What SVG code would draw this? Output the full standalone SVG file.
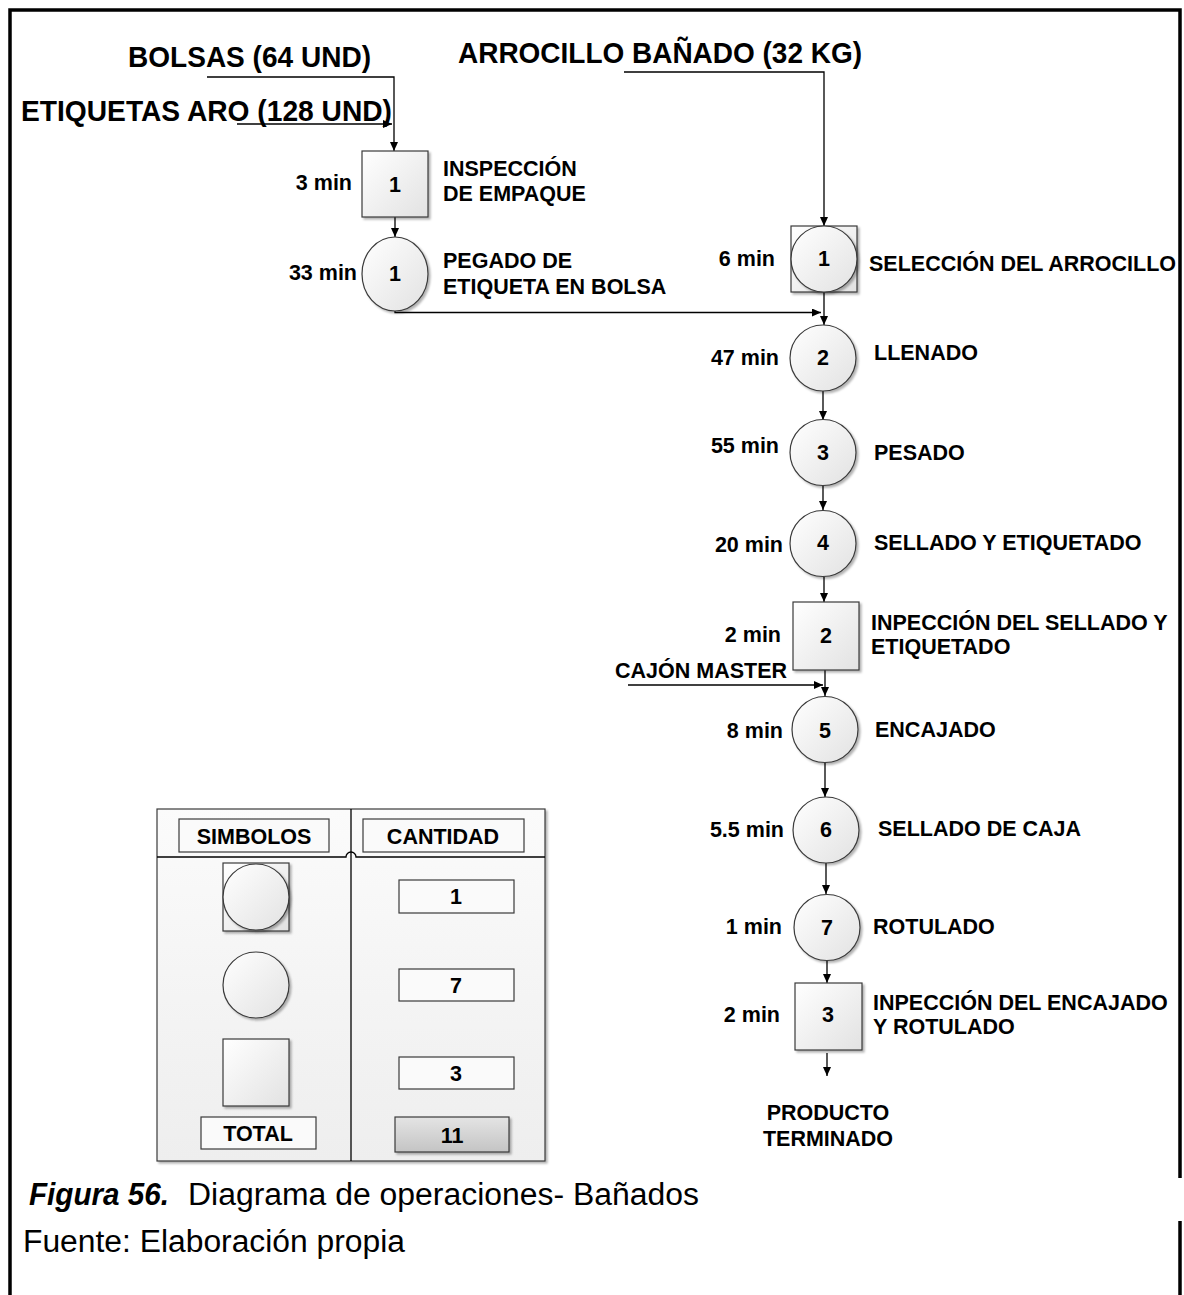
<svg xmlns="http://www.w3.org/2000/svg" width="1184" height="1295" viewBox="0 0 1184 1295">
  <defs>
    <linearGradient id="shade" x1="0" y1="0" x2="1" y2="1">
      <stop offset="0" stop-color="#ffffff"/>
      <stop offset="1" stop-color="#e2e2e2"/>
    </linearGradient>
    <linearGradient id="panel" x1="0" y1="0" x2="0" y2="1">
      <stop offset="0" stop-color="#fbfbfb"/>
      <stop offset="1" stop-color="#eeeeee"/>
    </linearGradient>
    <linearGradient id="grey" x1="0" y1="0" x2="0" y2="1">
      <stop offset="0" stop-color="#e4e4e4"/>
      <stop offset="1" stop-color="#c4c4c4"/>
    </linearGradient>
    <filter id="sh" x="-10%" y="-10%" width="130%" height="130%">
      <feDropShadow dx="2" dy="2" stdDeviation="1" flood-color="#000" flood-opacity="0.3"/>
    </filter>
    <marker id="arr" markerWidth="10" markerHeight="8" refX="9" refY="4" orient="auto" markerUnits="userSpaceOnUse">
      <path d="M0,0 L9,4 L0,8 Z" fill="#000"/>
    </marker>
  </defs>
  <style>
    text { font-family: "Liberation Sans", Arial, sans-serif; fill: #000; }
    .t { font-size: 21.5px; font-weight: bold; }
    .big { font-size: 30px; font-weight: bold; }
    .c { text-anchor: middle; }
    .r { text-anchor: end; }
    .cap { font-size: 31px; }
    .node { fill: url(#shade); stroke: #3a3a3a; stroke-width: 1.2; filter: url(#sh); }
    .box { fill: #fafafa; stroke: #3a3a3a; stroke-width: 1.2; }
    .link { fill: none; stroke: #000; stroke-width: 1.3; }
    .frame { fill: none; stroke: #000; stroke-width: 3.5; }
  </style>

  <rect width="1184" height="1295" fill="#fff"/>

  <!-- page frame -->
  <path class="frame" d="M10,1295 V10 H1180 V1178"/>
  <path class="frame" d="M1180,1221 V1295"/>

  <!-- input labels -->
  <text class="big" x="128" y="67" textLength="243" lengthAdjust="spacingAndGlyphs">BOLSAS (64 UND)</text>
  <text class="big" x="21" y="121" textLength="371" lengthAdjust="spacingAndGlyphs">ETIQUETAS ARO (128 UND)</text>
  <text class="big" x="458" y="63" textLength="404" lengthAdjust="spacingAndGlyphs">ARROCILLO BAÑADO (32 KG)</text>
  <text class="t" x="615" y="678">CAJÓN MASTER</text>

  <!-- connectors -->
  <g id="connectors">
    <path class="link" d="M207,77 H394 V151" marker-end="url(#arr)"/>
    <path class="link" d="M237,124 H392" marker-end="url(#arr)"/>
    <path class="link" d="M395,217 V237" marker-end="url(#arr)"/>
    <path class="link" d="M395,310 V312.5 H821" marker-end="url(#arr)"/>
    <path class="link" d="M624,72 H824 V226" marker-end="url(#arr)"/>
    <path class="link" d="M824,292 V325" marker-end="url(#arr)"/>
    <path class="link" d="M823,391 V420" marker-end="url(#arr)"/>
    <path class="link" d="M823,485 V510" marker-end="url(#arr)"/>
    <path class="link" d="M824,577 V602" marker-end="url(#arr)"/>
    <path class="link" d="M825,670 V696" marker-end="url(#arr)"/>
    <path class="link" d="M628,685 H823" marker-end="url(#arr)"/>
    <path class="link" d="M825,763 V797" marker-end="url(#arr)"/>
    <path class="link" d="M826,863 V894" marker-end="url(#arr)"/>
    <path class="link" d="M827,961 V983" marker-end="url(#arr)"/>
    <path class="link" d="M827,1053 V1076" marker-end="url(#arr)"/>
  </g>

  <!-- left branch -->
  <g id="insp-1">
    <rect class="node" x="362" y="151" width="66" height="66"/>
    <text class="t c" x="395" y="192">1</text>
    <text class="t r" x="352" y="190">3 min</text>
    <text class="t" x="443" y="176">INSPECCIÓN</text>
    <text class="t" x="443" y="201">DE EMPAQUE</text>
  </g>
  <g id="op-1">
    <ellipse class="node" cx="395" cy="274" rx="33" ry="37"/>
    <text class="t c" x="395" y="281">1</text>
    <text class="t r" x="357" y="280">33 min</text>
    <text class="t" x="443" y="268">PEGADO DE</text>
    <text class="t" x="443" y="294">ETIQUETA EN BOLSA</text>
  </g>

  <!-- main branch -->
  <g id="comb-1">
    <rect class="node" x="791" y="226" width="66" height="66"/>
    <circle class="node" cx="824" cy="259" r="33"/>
    <text class="t c" x="824" y="266">1</text>
    <text class="t r" x="775" y="266">6 min</text>
    <text class="t" x="869" y="271">SELECCIÓN DEL ARROCILLO</text>
  </g>
  <g id="op-2">
    <circle class="node" cx="823" cy="358" r="33"/>
    <text class="t c" x="823" y="365">2</text>
    <text class="t r" x="779" y="365">47 min</text>
    <text class="t" x="874" y="360">LLENADO</text>
  </g>
  <g id="op-3">
    <circle class="node" cx="823" cy="452.5" r="33"/>
    <text class="t c" x="823" y="460">3</text>
    <text class="t r" x="779" y="453">55 min</text>
    <text class="t" x="874" y="460">PESADO</text>
  </g>
  <g id="op-4">
    <circle class="node" cx="823" cy="543.5" r="33"/>
    <text class="t c" x="823" y="550">4</text>
    <text class="t r" x="783" y="552">20 min</text>
    <text class="t" x="874" y="550">SELLADO Y ETIQUETADO</text>
  </g>
  <g id="insp-2">
    <rect class="node" x="793" y="602" width="66" height="68"/>
    <text class="t c" x="826" y="643">2</text>
    <text class="t r" x="781" y="642">2 min</text>
    <text class="t" x="871" y="630">INPECCIÓN DEL SELLADO Y</text>
    <text class="t" x="871" y="654">ETIQUETADO</text>
  </g>
  <g id="op-5">
    <circle class="node" cx="825" cy="729.5" r="33"/>
    <text class="t c" x="825" y="738">5</text>
    <text class="t r" x="783" y="738">8 min</text>
    <text class="t" x="875" y="737">ENCAJADO</text>
  </g>
  <g id="op-6">
    <circle class="node" cx="826" cy="830" r="33"/>
    <text class="t c" x="826" y="837">6</text>
    <text class="t r" x="784" y="837">5.5 min</text>
    <text class="t" x="878" y="836">SELLADO DE CAJA</text>
  </g>
  <g id="op-7">
    <circle class="node" cx="827" cy="927.5" r="33"/>
    <text class="t c" x="827" y="935">7</text>
    <text class="t r" x="782" y="934">1 min</text>
    <text class="t" x="873" y="934">ROTULADO</text>
  </g>
  <g id="insp-3">
    <rect class="node" x="795" y="983" width="67" height="67"/>
    <text class="t c" x="828" y="1022">3</text>
    <text class="t r" x="780" y="1022">2 min</text>
    <text class="t" x="873" y="1010">INPECCIÓN DEL ENCAJADO</text>
    <text class="t" x="873" y="1034">Y ROTULADO</text>
  </g>
  <g id="product">
    <text class="t c" x="828" y="1120">PRODUCTO</text>
    <text class="t c" x="828" y="1146">TERMINADO</text>
  </g>

  <!-- summary table -->
  <g id="summary">
    <rect x="157" y="809" width="388" height="352" fill="url(#panel)" stroke="#3a3a3a" stroke-width="1.2" filter="url(#sh)"/>
    <path d="M157,857 H346 A5,5 0 0 1 356,857 H545" fill="none" stroke="#000" stroke-width="1.3"/>
    <path d="M351,809 V1161" fill="none" stroke="#000" stroke-width="1.3"/>
    <rect class="box" x="179" y="819" width="150" height="33"/>
    <text class="t c" x="254" y="844">SIMBOLOS</text>
    <rect class="box" x="363" y="819" width="161" height="33"/>
    <text class="t c" x="443" y="844">CANTIDAD</text>

    <rect class="node" x="223" y="863" width="66" height="68"/>
    <circle class="node" cx="256" cy="897" r="33"/>
    <circle class="node" cx="256" cy="985" r="33"/>
    <rect class="node" x="223" y="1039" width="66" height="67"/>

    <rect class="box" x="399" y="880" width="115" height="33"/>
    <text class="t c" x="456" y="904">1</text>
    <rect class="box" x="399" y="969" width="115" height="32"/>
    <text class="t c" x="456" y="993">7</text>
    <rect class="box" x="399" y="1057" width="115" height="32"/>
    <text class="t c" x="456" y="1081">3</text>

    <rect class="box" x="201" y="1117" width="115" height="32"/>
    <text class="t c" x="258" y="1141">TOTAL</text>
    <rect x="395" y="1117" width="114" height="35" fill="url(#grey)" stroke="#3a3a3a" stroke-width="1.2" filter="url(#sh)"/>
    <text class="t c" x="452" y="1143">11</text>
  </g>

  <!-- caption -->
  <text class="cap" x="29" y="1205" font-weight="bold" font-style="italic" textLength="140" lengthAdjust="spacingAndGlyphs">Figura 56.</text>
  <text class="cap" x="188" y="1205" textLength="511" lengthAdjust="spacingAndGlyphs">Diagrama de operaciones- Bañados</text>
  <text class="cap" x="23" y="1252" textLength="382" lengthAdjust="spacingAndGlyphs">Fuente: Elaboración propia</text>
</svg>
